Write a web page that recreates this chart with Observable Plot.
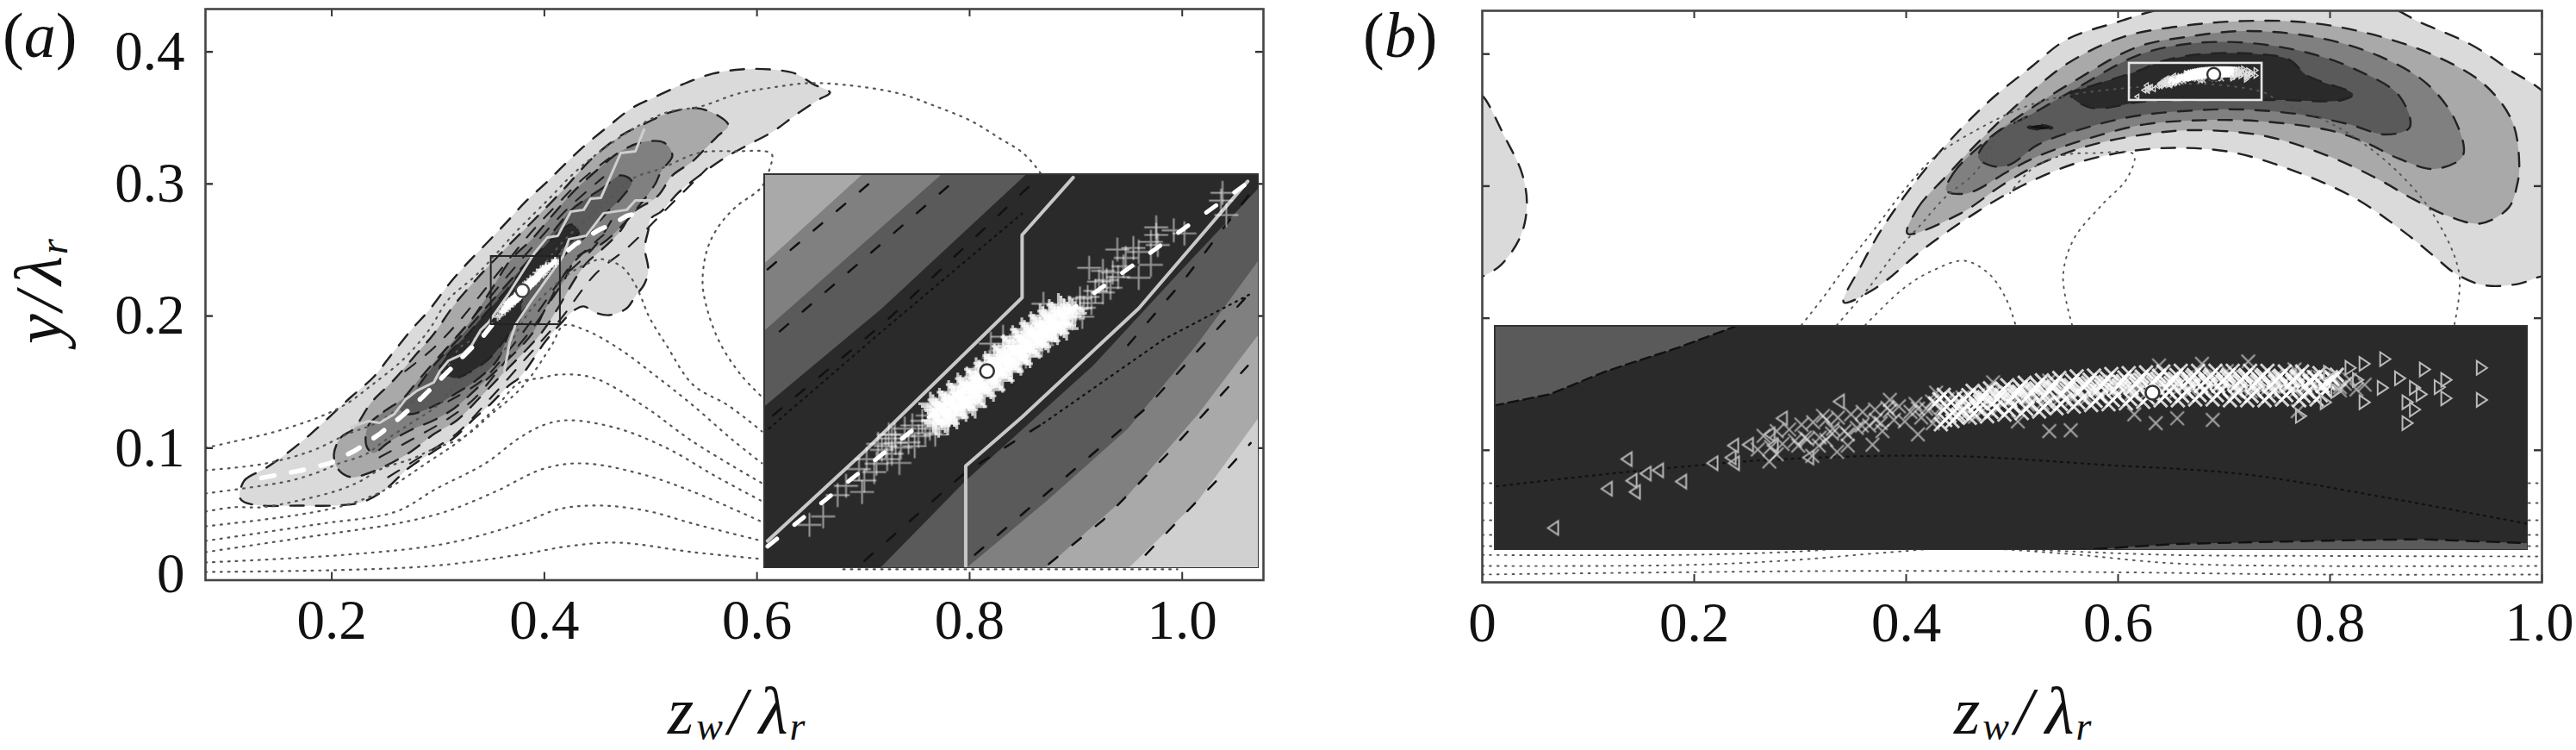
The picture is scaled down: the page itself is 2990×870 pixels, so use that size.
<!DOCTYPE html>
<html><head><meta charset="utf-8">
<style>
html,body{margin:0;padding:0;background:#fff;}
#page{position:relative;width:2990px;height:870px;overflow:hidden;background:#fff;font-family:"Liberation Serif",serif;color:#111;}
#page>div.p{position:absolute;}
#page svg{display:block;overflow:visible;}
#page svg g[aria-label="line"],#page svg g[aria-label="dot"]{filter:blur(.55px);}
.lab{position:absolute;font-family:"Liberation Serif",serif;font-style:italic;white-space:nowrap;line-height:1;color:#111;}
.lab sub{font-size:.59em;vertical-align:baseline;position:relative;top:7px;}
.lab span{font-style:normal;}
.lab b{font-weight:normal;display:inline-block;}
</style>
<script src="https://cdn.jsdelivr.net/npm/d3@7"></script>
<script src="https://cdn.jsdelivr.net/npm/@observablehq/plot@0.6"></script>
</head><body><div id="page"></div>
<script>
const GREYS = {l1:"#dadada", l2:"#a9a9a9", l3:"#808080", l4:"#5a5a5a", l5:"#2a2a2a"};
const xTicksA = [0.2,0.4,0.6,0.8,1.0];
const xTicksB = [0,0.2,0.4,0.6,0.8,1.0];
const yTicks = [0,0.1,0.2,0.3,0.4];

// ---- panel (a): filled contour levels [z/lambda, y/lambda]
const aLevel1 = [[.1136,.0623],[.1177,.0754],[.1371,.0845],[.1582,.0963],[.1801,.1106],[.1987,.1243],[.2181,.1387],[.2392,.1537],[.2554,.17],[.2749,.1896],[.2911,.204],[.3097,.2236],[.3259,.2386],[.3446,.2542],[.364,.2706],[.3827,.2869],[.4013,.3006],[.4208,.3162],[.4394,.33],[.4612,.3443],[.4823,.3574],[.5042,.3659],[.531,.3757],[.5585,.3835],[.5852,.3867],[.612,.3867],[.6363,.3835],[.6525,.3757],[.6687,.3691],[.6582,.3639],[.6363,.3522],[.6152,.3398],[.5909,.3293],[.5691,.3195],[.5472,.3071],[.5261,.2934],[.5099,.2791],[.5002,.2738],[.4977,.2647],[.4945,.2516],[.4977,.2347],[.4937,.2236],[.4856,.2151],[.4775,.2059],[.4612,.2007],[.4475,.2027],[.437,.2073],[.4273,.204],[.4175,.1962],[.4013,.1811],[.377,.1537],[.3664,.1472],[.3503,.1341],[.3341,.1224],[.3154,.108],[.296,.0976],[.2717,.0845],[.2506,.0689],[.2287,.0591],[.202,.0565],[.1695,.0565],[.1339,.0565],[.1177,.0591]];
const aLevel2 = [[.202,.095],[.2085,.108],[.2206,.1146],[.2368,.1341],[.2587,.1518],[.2797,.1713],[.2959,.1864],[.3154,.2086],[.3364,.2281],[.364,.2516],[.3883,.2712],[.4175,.2954],[.4451,.3195],[.4718,.3365],[.4961,.3463],[.518,.3541],[.5423,.3574],[.561,.3528],[.5731,.3443],[.5634,.3365],[.5529,.328],[.5391,.3169],[.5204,.3064],[.5066,.2908],[.4823,.2777],[.4718,.2647],[.4532,.2497],[.4394,.2399],[.4289,.2281],[.4127,.2059],[.3964,.1864],[.3608,.1563],[.3398,.1387],[.3178,.1211],[.296,.1106],[.2749,.0976],[.2506,.0865],[.2311,.08],[.2181,.078],[.2068,.0832]];
const aLevel3 = [[.2344,.1172],[.249,.1276],[.2668,.1374],[.2798,.1498],[.296,.1648],[.3154,.1824],[.3317,.1975],[.3503,.2203],[.3689,.2432],[.3883,.2582],[.407,.2758],[.4289,.2954],[.4532,.313],[.4694,.3234],[.4905,.3313],[.5124,.3313],[.5204,.3215],[.5099,.3097],[.5042,.2999],[.488,.2823],[.4718,.2673],[.4532,.2542],[.4313,.2451],[.4175,.2255],[.4013,.2059],[.3883,.1864],[.3559,.1596],[.3365,.1452],[.3154,.1302],[.296,.1211],[.2749,.1139],[.253,.1041],[.2392,.0963],[.2327,.1015]];
const aLevel4 = [[.4718,.3065],[.4555,.2973],[.4394,.2888],[.4256,.2804],[.407,.2627],[.3883,.2451],[.3664,.2255],[.3446,.2059],[.3284,.1909],[.3097,.1746],[.2935,.1603],[.2798,.1452],[.2635,.1302],[.2717,.1257],[.2935,.1309],[.3154,.1407],[.3365,.1518],[.3559,.1668],[.3689,.1909],[.3883,.2125],[.4046,.232],[.4232,.2497],[.4394,.2608],[.4612,.2804],[.4718,.2888],[.4823,.3019]];
const aLevel5 = [[.4256,.2693],[.4151,.2647],[.3989,.2516],[.3827,.2386],[.364,.219],[.3446,.202],[.3259,.1844],[.3097,.1713],[.3016,.1596],[.3154,.1531],[.3317,.1583],[.3503,.1694],[.3664,.1864],[.377,.1975],[.3803,.217],[.3989,.232],[.4151,.2497],[.4329,.264]];
const aDashed = [
 [[.2692,.1583],[.296,.1759],[.3178,.1942],[.3365,.2125],[.3624,.2386],[.3883,.264],[.411,.2836],[.4353,.3032],[.4612,.3195]],
 [[.2449,.093],[.2773,.1074],[.3097,.1224],[.334,.1374],[.3624,.1648],[.3948,.1975],[.4232,.2366],[.4556,.2614]],
 [[.253,.078],[.2854,.0943],[.3178,.1113],[.3503,.1387],[.3827,.1681],[.4151,.1975],[.4475,.2314],[.4799,.2529],[.5164,.2823],[.5529,.3117]],
 [[.3016,.1694],[.33,.1961],[.3584,.2236],[.3908,.2542],[.4232,.2823],[.4556,.3052]],
 [[.3097,.1354],[.3421,.1518],[.3705,.1779],[.3948,.204],[.4151,.2268],[.4475,.2529],[.4677,.279]]
];
const aDotted = [
 [[.0812,.1002],[.1071,.1048],[.1476,.1126],[.1906,.1243],[.2149,.1341],[.2368,.1472],[.2668,.1668],[.2911,.189],[.3097,.2125],[.3364,.2314],[.3745,.2647],[.4045,.2889],[.4256,.3065],[.4475,.3215],[.4823,.3411],[.5148,.3541],[.5472,.3587],[.5829,.3685],[.6153,.3731],[.6476,.3763],[.6825,.375],[.7336,.3685],[.766,.3594],[.8016,.3476],[.8284,.3345],[.8502,.3234],[.8664,.3084],[.873,.2986]],
 [[.0812,.0832],[.134,.0878],[.1801,.0976],[.2149,.1106],[.2425,.1191],[.2587,.1276],[.2798,.1367],[.3016,.1518],[.3203,.1759],[.3365,.1844],[.3584,.2059],[.377,.2216],[.3989,.2386],[.4151,.2542],[.4313,.2673],[.4556,.2843],[.4718,.2973],[.4856,.3052],[.5099,.3117],[.5448,.3234],[.5796,.3247],[.6136,.3228],[.612,.3117],[.6039,.2973],[.5796,.2823],[.5634,.2673],[.5529,.2497],[.5488,.2255],[.5529,.2059],[.565,.1798],[.5853,.155],[.6047,.1387]],
 [[.0812,.0656],[.134,.0715],[.1615,.0754],[.1858,.0813],[.2068,.0884],[.2311,.095],[.2506,.1061],[.2749,.1191],[.2992,.1322],[.3203,.1518],[.3397,.1602],[.364,.1759],[.3883,.2059],[.4232,.232],[.4451,.2412],[.4532,.2431],[.4718,.2379],[.4823,.2281],[.4905,.2151],[.4985,.1994],[.5148,.1779],[.5399,.1479],[.5731,.1322],[.6047,.1126]],
 [[.0812,.0519],[.1071,.0552],[.1339,.0552],[.1695,.0604],[.2068,.0682],[.2262,.0747],[.2473,.0845],[.2748,.0917],[.2959,.0995],[.3234,.108],[.3502,.1257],[.3802,.1472],[.4069,.1779],[.4183,.1929],[.4394,.189],[.4702,.1753],[.5042,.155],[.5399,.1322],[.5771,.1061],[.6047,.0885]],
 [[.0812,.0408],[.1671,.0493],[.2141,.0571],[.2514,.0689],[.2887,.0884],[.3211,.1061],[.3535,.1302],[.377,.1498],[.3973,.1531],[.4143,.1557],[.4467,.1531],[.4929,.1322],[.5399,.1048],[.6047,.0734]],
 [[.0812,.0297],[.1907,.0428],[.2604,.0519],[.2976,.0689],[.3446,.0885],[.377,.108],[.4005,.1178],[.4232,.1211],[.4702,.1146],[.5164,.0995],[.561,.0787],[.6047,.0598]],
 [[.0812,.0212],[.1907,.0343],[.2604,.0428],[.3073,.0519],[.3535,.0669],[.3997,.0845],[.437,.0884],[.4929,.08],[.5399,.0669],[.6047,.0441]],
 [[.0812,.0134],[.2141,.0193],[.3073,.0277],[.377,.0428],[.4143,.0539],[.4516,.0565],[.4962,.0525],[.5399,.0428],[.6047,.0297]],
 [[.0812,.0062],[.2838,.0101],[.377,.0193],[.4232,.0258],[.4694,.0284],[.5399,.0212],[.6047,.016]],
 [[.6811,.0082],[.9955,.0082]]
];
const aEnvUpper = [[.2181,.1159],[.2344,.1204],[.2449,.1191],[.2587,.1257],[.2692,.1367],[.2798,.1433],[.296,.1498],[.3016,.1583],[.3097,.1661],[.3235,.1713],[.3316,.1779],[.3397,.189],[.3478,.1955],[.3665,.217],[.3907,.2477],[.4029,.2595],[.4127,.2608],[.4248,.279],[.437,.2804],[.4434,.2888],[.4532,.2895],[.4718,.3234],[.4856,.3247],[.4937,.3411]];
const aEnvLower = [[.3624,.1583],[.3673,.1798],[.3729,.1935],[.3868,.2105],[.4175,.2451],[.4232,.2582],[.4394,.2608],[.4556,.2778],[.4775,.2804],[.4856,.2875],[.5002,.2875]];
const aMean = [[.1339,.0774],[.172,.0832],[.1979,.0884],[.2222,.0982],[.2449,.1106],[.2652,.1237],[.2855,.1387],[.3041,.1537],[.3235,.1694],[.3421,.1844],[.3721,.2151],[.3883,.2255],[.4151,.2451],[.4289,.2542],[.4394,.2594],[.4532,.266],[.4637,.2693],[.4775,.2758],[.488,.2778]];
const aBox = {x1:.350,x2:.415,y1:.1935,y2:.2451};
const aRef = [[.3793,.2193]];
const aCloud = [[.356,.1992],[.3578,.2003],[.3597,.2031],[.3629,.2035],[.3608,.2043],[.3632,.205],[.3645,.2061],[.3678,.2073],[.3664,.211],[.3673,.2099],[.3798,.2229],[.3814,.2238],[.3825,.2195],[.3844,.2212],[.3865,.2227],[.3918,.2264],[.3915,.2275],[.3867,.2281],[.3964,.2352],[.3985,.2354],[.3992,.2349],[.4008,.2332],[.3992,.2315],[.3955,.2302],[.3945,.2324],[.3927,.2328],[.4015,.2381],[.4015,.2371],[.4008,.2362],[.4017,.2358],[.4038,.2377],[.4052,.2373],[.4102,.2426],[.4107,.2397],[.41,.2416],[.3975,.2341],
[.3625,.2065],[.3635,.2078],[.3648,.2072],[.3655,.209],[.3662,.2078],[.365,.2098],[.3668,.2105],[.366,.2095],[.3668,.2085],[.3672,.211],[.368,.2093],[.3685,.2118],[.369,.21],[.3695,.2122],[.3698,.2095],[.3703,.2108],[.3708,.2128],[.3712,.2112],[.3715,.2135],[.3718,.2118],[.3722,.2128],[.3725,.211],[.3728,.2142],[.3732,.2125],[.3735,.2135],[.3738,.215],[.3742,.213],[.3745,.2142],[.3748,.216],[.375,.2148],[.3752,.2135],[.3755,.2155],[.3758,.2165],[.376,.2145],[.3762,.216],[.3765,.2172],[.3768,.2152],[.377,.2165],[.3772,.2178],[.3774,.2158],[.3776,.217],[.3778,.2185],[.378,.2165],[.3782,.2176],[.3784,.2192],[.3786,.2172],[.3788,.2185],[.379,.2198],[.3792,.2178],[.3794,.219],[.3796,.2205],[.3798,.2185],[.38,.2196],[.3802,.221],[.3804,.219],[.3806,.2202],[.3808,.2214],[.381,.2196],[.3812,.2208],[.3815,.222],[.3818,.2202],[.382,.2214],[.3823,.2226],[.3826,.2208],[.3828,.222],[.3832,.2232],[.3835,.2214],[.3838,.2226],[.3842,.2238],[.3845,.222],[.3848,.2232],[.3852,.2244],[.3855,.2228],[.3858,.224],[.3862,.225],[.3866,.2234],[.387,.2246],[.3874,.2258],[.3878,.2244],[.3882,.2254],[.3886,.2266],[.389,.2254],[.3895,.2264],[.39,.2276],[.3905,.2262],[.391,.2274],[.3915,.2288],[.392,.2276],[.3925,.229],[.393,.2282],[.3935,.2298],[.394,.231],[.3945,.2296],[.395,.2312],[.3958,.2322],[.3965,.2316],[.3972,.233]];
const aCore = [[.3722,.2147],[.3726,.2125],[.373,.2138],[.3734,.2152],[.3738,.2128],[.3742,.2146],[.3746,.2162],[.375,.2136],[.3754,.2154],[.3758,.2172],[.3762,.2146],[.3766,.216],[.377,.218],[.3774,.215],[.3778,.217],[.3782,.2192],[.3786,.2164],[.379,.2182],[.3794,.22],[.3798,.2172],[.3802,.2192],[.3806,.221],[.381,.2184],[.3814,.2202],[.3818,.2222],[.3822,.2196],[.3826,.2214],[.383,.2234],[.3834,.2206],[.3838,.2222],[.3842,.2244],[.3846,.2216],[.385,.2234],[.3854,.2252],[.3858,.2228],[.3862,.2242],[.3866,.2262],[.387,.2236],[.3874,.2252],[.3878,.2268],[.3882,.2246],[.3886,.2258],[.389,.2276],[.3894,.2252],[.3898,.2268],[.374,.214],[.376,.2156],[.378,.2174],[.38,.219],[.382,.2206],[.384,.2222],[.386,.2238],[.388,.2254],[.3905,.2272]];

// ---- inset of (a): band edges read in the magnified window
const iaUL = [{fill:GREYS.l4,pts:[[.35,.245],[.3844,.245],[.3655,.2275],[.3502,.2148],[.35,.2148]]},{fill:GREYS.l3,pts:[[.35,.245],[.3733,.245],[.3502,.2247],[.35,.2247]]},{fill:GREYS.l2,pts:[[.35,.245],[.3629,.245],[.3502,.2335],[.35,.2335]]}];
const iaLR = [{fill:GREYS.l4,pts:[[.3652,.1935],[.3765,.205],[.3932,.22],[.4047,.2324],[.415,.2433],[.415,.1935]]},{fill:GREYS.l3,pts:[[.3765,.1935],[.3872,.2024],[.3978,.2118],[.407,.223],[.415,.2339],[.415,.1935]]},{fill:GREYS.l2,pts:[[.3869,.1935],[.3978,.2031],[.407,.2137],[.415,.2242],[.415,.1935]]},{fill:"#d0d0d0",pts:[[.3978,.1935],[.407,.2024],[.415,.2133],[.415,.1935]]}];
const iaDashed = [[[.3505,.2326],[.3643,.2442]],[[.3521,.2245],[.3747,.2439]],[[.3512,.2135],[.3659,.2257],[.3853,.2439]],[[.3632,.1945],[.3765,.2061],[.3867,.2125]],[[.3777,.1953],[.4001,.2144],[.4144,.2302]],[[.3874,.1941],[.3945,.1998],[.4029,.2084],[.4135,.22]],[[.4001,.1953],[.4102,.2058],[.4139,.2099]],[[.3978,.2227],[.4052,.2313],[.4144,.2433]]];
const iaDotted = [[[.3507,.2118],[.3655,.2245],[.3839,.2399]],[[.3867,.2125],[.4024,.2234],[.4139,.2294]]];
const iaEnvUpper = [[.3505,.1971],[.3632,.2088],[.3839,.2289],[.3839,.2371],[.3906,.2446]];
const iaEnvLower = [[.3765,.1938],[.3765,.2069],[.3839,.2133],[.3992,.2275],[.4135,.2441]];
const iaMean = [[.3505,.1964],[.3655,.2084],[.3793,.2193],[.3932,.2294],[.4139,.2442]];

// ---- panel (b)
const bLevel1 = [[.3411,.212],[.3578,.2402],[.3778,.2685],[.4045,.2989],[.4379,.3315],[.478,.3641],[.518,.3902],[.5514,.4109],[.5981,.4239],[.6549,.4359],[.8518,.4359],[.8852,.4239],[.9319,.4076],[.9653,.3902],[1.012,.3598],[1.012,.2315],[.9987,.2315],[.9786,.2261],[.9453,.225],[.9186,.2337],[.8985,.2467],[.8718,.2641],[.8251,.2902],[.7717,.3098],[.7116,.325],[.6649,.3289],[.6182,.3272],[.5648,.3185],[.5113,.3011],[.4646,.2793],[.4179,.2533],[.3712,.2228]];
const bBlob = [[-.005,.3696],[0,.3685],[.0207,.338],[.0374,.3098],[.0421,.2859],[.0361,.262],[.0174,.2402],[0,.2315],[-.005,.23]];
const bLevel2 = [[.4012,.2641],[.4112,.2837],[.4379,.3076],[.4713,.3359],[.5113,.3663],[.5514,.3924],[.6048,.413],[.6649,.4217],[.7183,.425],[.7784,.4239],[.8384,.4152],[.8985,.3989],[.9453,.3772],[.972,.3489],[.9786,.3163],[.9766,.3011],[.9686,.2837],[.9419,.2717],[.9119,.2772],[.8785,.2902],[.8451,.3054],[.7984,.3228],[.7383,.338],[.6716,.3424],[.6248,.3391],[.5714,.3304],[.5247,.3163],[.4913,.3011],[.4513,.2793]];
const bLevel3 = [[.4379,.2967],[.4446,.3098],[.4713,.3315],[.5113,.3554],[.5581,.3793],[.6182,.4054],[.6649,.413],[.7183,.4174],[.785,.413],[.8451,.3989],[.8919,.3772],[.9186,.3489],[.9252,.3228],[.8985,.313],[.8652,.3207],[.8318,.3337],[.7984,.3424],[.7383,.3489],[.6849,.35],[.6248,.3467],[.5714,.3359],[.5247,.3228],[.498,.312],[.4579,.2946]];
const bLevel4 = [[.468,.3217],[.4813,.338],[.518,.3543],[.5581,.3728],[.6182,.3989],[.6649,.4076],[.7183,.4087],[.7784,.4011],[.8251,.388],[.8652,.3685],[.8752,.3446],[.8518,.3391],[.8184,.3467],[.7717,.3543],[.7183,.358],[.6782,.3576],[.6182,.3533],[.5714,.3446],[.5247,.3315],[.498,.3163],[.4813,.3152]];
const bLevel5 = [[.5547,.3696],[.5714,.375],[.6182,.387],[.6415,.3946],[.6782,.4],[.7316,.4],[.7617,.3957],[.7784,.3837],[.8218,.3696],[.8117,.3652],[.7517,.3652],[.6916,.3652],[.6248,.3641],[.5748,.3593]];
const bSpot = [[.5147,.3446],[.528,.3463],[.538,.3441],[.5247,.3428]];
const bDotted = [
 [[.3011,.1946],[.3244,.2185],[.3478,.2446],[.3712,.2685],[.3979,.2967],[.4279,.3228],[.4713,.3446],[.5113,.3598],[.5514,.3685],[.6182,.375],[.6849,.3772],[.7383,.3707],[.7517,.3641],[.7917,.3511],[.8251,.3359],[.8652,.3098],[.8985,.2772],[.9219,.2337],[.9172,.1946]],
 [[.3344,.1946],[.3645,.2228],[.3912,.2511],[.4112,.2685],[.4379,.2924],[.4646,.3098],[.4913,.3424],[.518,.3533]],
 [[.5567,.1946],[.5481,.2315],[.5581,.2598],[.5848,.2859],[.6081,.3054],[.6148,.3239],[.5781,.325],[.5514,.3239],[.5247,.3163],[.5113,.3076],[.498,.2946]],
 [[.3612,.1946],[.3979,.2228],[.4246,.2359],[.4546,.2435],[.478,.2337],[.4947,.2141],[.5033,.1946]],
 [[0,.0207],[.184,.0207],[.284,.0228],[.411,.0283],[.535,.0241],[.652,.0207],[.785,.02],[1,.0196]],
 [[0,.0124],[.184,.013],[.284,.0163],[.385,.0228],[.45,.0261],[.55,.0217],[.652,.0144],[.785,.0124],[1,.0124]],
 [[0,.0059],[.184,.0076],[.385,.0087],[.6,.0076],[.785,.0059],[1,.0059]],
 [[0,.0751],[1,.0751]],[[0,.0601],[1,.0601]],[[0,.047],[1,.047]],[[0,.0359],[1,.0359]],[[0,.0274],[1,.0274]]
];
const bBox = {x1:.6106,x2:.7358,y1:.3649,y2:.393};
const bRef = [[.6903,.3846]];

// ---- inset of (b)
const ibUL = [[.6106,.393],[.6401,.393],[.6328,.3902],[.6242,.3873],[.6173,.3844],[.6106,.383]];
const ibLR = [[.6808,.3649],[.6929,.3657],[.71,.3661],[.7229,.3663],[.7358,.3658],[.7358,.3649]];
const ibDotted = [[.6109,.3729],[.6267,.3747],[.6456,.3763],[.6654,.3767],[.6843,.3756],[.7015,.3744],[.7186,.3715],[.7358,.3682]];
const ibLeftTri = [[.6177,.3677],[.6266,.3763],[.6242,.3726],[.6276,.3722],[.6272,.3736],[.6289,.3745],[.6304,.3749],[.6332,.3735],[.637,.3758],[.6392,.3765],[.6395,.378],[.6413,.3781],[.6439,.3794],[.6454,.3814],[.6443,.378],[.6523,.3835],[.6486,.3765],[.6396,.3758]];
const ibRightTri = [[.7185,.3888],[.7233,.3875],[.7302,.3877],[.7302,.3837],[.7212,.3808],[.7083,.3817],[.7259,.3862],[.7251,.3853],[.7259,.3839],[.7212,.3834],[.7221,.3825],[.7229,.3844],[.7203,.3864],[.716,.3882],[.7143,.3877],[.7117,.3871],[.7152,.3862],[.7113,.3834],[.716,.3834],[.7182,.3852],[.7126,.3848],[.7221,.3852]];
const ibCross = [[.6911,.388],[.6963,.3882],[.7019,.3885],[.671,.3859],[.6504,.3817],[.6439,.376],[.6976,.3812],[.6933,.3814],[.6907,.3808],[.6804,.3799],[.6778,.3798],[.6564,.3781],[.6521,.3772],[.6491,.3767],[.6619,.3794],[.6585,.3837],[.6641,.3846],[.6778,.3861],[.6881,.3819],[.7079,.3823],[.7075,.3875],[.6993,.3873],
[.6474,.378],[.6448,.3769],[.6482,.379],[.6508,.3787],[.6534,.3794],[.6551,.3805],[.6516,.3801],[.6568,.3812],[.6585,.3823],[.6619,.3826],[.6499,.378],[.6534,.378],[.6576,.3798],[.6637,.3808],[.6688,.3816],[.674,.381],
[.6425,.3775],[.6432,.3792],[.6441,.3778],[.6448,.3798],[.6455,.3782],[.6463,.38],[.647,.3786],[.6478,.3806],[.6485,.3788],[.6492,.3809],[.65,.379],[.6508,.3812],[.6515,.3795],[.6522,.3815],[.653,.3798],[.6538,.3819],[.6545,.3802],[.6552,.3822],[.656,.3805],[.6567,.3825],[.6574,.3808],[.6582,.3827],[.659,.3812],[.6596,.3829],[.6603,.381],[.661,.3822],[.6616,.3832],[.6623,.3815],[.6629,.3826],[.6636,.3835],[.6642,.3817],[.6648,.3828],[.6655,.3838],[.6661,.382],[.6667,.3832],[.6673,.384],[.668,.3822],[.6686,.3834],[.6692,.3843],[.6698,.3824],[.6704,.3836],[.671,.3845],[.6716,.3826],[.6722,.3838],[.6728,.3846],[.6734,.3829],[.674,.384],[.6746,.3848],[.6752,.3831],[.6758,.3842],[.6764,.385],[.677,.3833],[.6776,.3844],[.6782,.3852],[.6788,.3836],[.6794,.3846],[.68,.3854],[.6806,.3838],[.6812,.3848],[.6818,.3856],[.6824,.384],[.683,.385],[.6836,.3858],[.6842,.3842],[.6848,.3852],[.6854,.386],[.686,.3843],[.6866,.3853],[.6872,.3861],[.6878,.3845],[.6884,.3855],[.689,.3862],[.6896,.3846],[.6902,.3856],[.6908,.3863],[.6914,.3847],[.692,.3857],[.6926,.3864],[.6932,.3848],[.6938,.3858],[.6944,.3865],[.695,.3849],[.6956,.3858],[.6962,.3866],[.6968,.3849],[.6974,.3858],[.698,.3866],[.6986,.3849],[.6992,.3858],[.6998,.3866],[.7004,.3848],[.701,.3858],[.7016,.3867],[.7022,.3848],[.7028,.3858],[.7034,.3867],[.704,.3849],[.7046,.3858],[.7052,.3866],[.7058,.3849],[.7064,.3859],[.707,.3867],[.7076,.3848],[.7082,.3858],[.7088,.3866],[.7094,.3847],[.71,.3857],[.7106,.3865],[.7112,.3848],[.7118,.3858],[.7124,.3864],[.713,.3849],[.7136,.3857],[.7142,.3862],[.715,.385],[.716,.3856],
[.665,.3826],[.667,.383],[.669,.3832],[.671,.3835],[.673,.3838],[.675,.384],[.677,.3842],[.679,.3845],[.681,.3846],[.683,.3847],[.685,.3849],[.687,.3851],[.689,.3852],[.691,.3853],[.693,.3855],[.695,.3856],[.697,.3855],[.699,.3856],[.701,.3852],[.703,.3854],[.705,.3853],[.707,.3855],[.709,.3852],[.711,.3854],[.713,.3853]];
const ibCore = [[.6645,.3838],[.6652,.3812],[.6659,.3834],[.6666,.3816],[.6673,.3824],[.668,.3843],[.6687,.382],[.6694,.3835],[.6701,.3846],[.6708,.3822],[.6715,.3838],[.6722,.385],[.6729,.3824],[.6736,.3842],[.6743,.3853],[.675,.3826],[.6757,.3846],[.6764,.3856],[.6771,.3828],[.6778,.3848],[.6785,.3859],[.6792,.3832],[.6799,.385],[.6806,.3861],[.6813,.3834],[.682,.3853],[.6827,.3862],[.6834,.3836],[.6841,.3854],[.6848,.3864],[.6855,.3837],[.6862,.3855],[.6869,.3865],[.6876,.3838],[.6883,.3857],[.689,.3866],[.6897,.384],[.6904,.3858],[.6911,.3867],[.6918,.3842],[.6925,.3858],[.6932,.3868],[.6939,.3842],[.6946,.386],[.6953,.3868],[.696,.3843],[.6967,.386],[.6974,.3868],[.6981,.3843],[.6988,.386],[.6995,.3868],[.7002,.3842],[.7009,.386],[.7016,.3868],[.7023,.3842],[.703,.386],[.7037,.3868],[.7044,.3842],[.7051,.386],[.7058,.3867],[.7065,.3843],[.7072,.386],[.7079,.3867],[.7086,.3842],[.7093,.386],[.71,.3865],[.7107,.3843],[.7114,.386],[.7121,.3863]];

// ---- shared helpers
const px = d => d[0], py = d => d[1];
const band = (pts, fill, stroke=true, dash="16,14") => Plot.line(pts, {x:px, y:py, fill, stroke: stroke ? "#222" : "none", strokeWidth:2.4, strokeDasharray:dash, curve:"catmull-rom-closed", clip:true});
const dash = (pts, extra={}) => Plot.line(pts, {x:px, y:py, stroke:"#222", strokeWidth:2.2, strokeDasharray:"15,15", curve:"catmull-rom", clip:true, ...extra});
const dots = (pts, extra={}) => Plot.line(pts, {x:px, y:py, stroke:"#555", strokeWidth:2.2, strokeDasharray:"1.8,7", curve:"catmull-rom", clip:true, ...extra});
const fmt = d => d === 0 ? "0" : d.toFixed(1);
const triangle = dir => ({draw(c, size){ const r = Math.sqrt(size/Math.PI); c.moveTo(dir*r*.75,0); c.lineTo(-dir*r*.75,-r); c.lineTo(-dir*r*.75,r); c.closePath(); }});

function frameMarks(x0,x1,y0,y1,xT,yT,dxT,dyT){
  return [
    Plot.ruleX(xT.filter(t=>t>x0),{x:d=>d,y1:y0,y2:y0+dyT,stroke:"#333",strokeWidth:2}),
    Plot.ruleX(xT.filter(t=>t>x0),{x:d=>d,y1:y1-dyT,y2:y1,stroke:"#333",strokeWidth:2}),
    Plot.ruleY(yT.filter(t=>t>0),{y:d=>d,x1:x0,x2:x0+dxT,stroke:"#333",strokeWidth:2.4}),
    Plot.ruleY(yT.filter(t=>t>0),{y:d=>d,x1:x1-dxT,x2:x1,stroke:"#333",strokeWidth:2.4}),
    Plot.frame({stroke:"#444",strokeWidth:2.6})
  ];
}
function mount(node,left,top){ const d=document.createElement("div"); d.className="p"; d.style.left=left+"px"; d.style.top=top+"px"; d.appendChild(node); document.getElementById("page").appendChild(d); }
const txt = {fontSize:65,fontFamily:"Liberation Serif"};

// ---- panel (a)
const ax0=.0812, ax1=1.0764, ay1=.4324;
const panelA = Plot.plot({
  width:1500,height:870,marginLeft:238,marginRight:34,marginTop:10,marginBottom:197.5,
  x:{domain:[ax0,ax1]},y:{domain:[0,ay1]},
  style:{background:"transparent",overflow:"visible"},
  marks:[
    band(aLevel1,GREYS.l1),band(aLevel2,GREYS.l2),band(aLevel3,GREYS.l3),band(aLevel4,GREYS.l4),band(aLevel5,GREYS.l5),
    ...aDashed.map(l=>dash(l)),
    ...aDotted.map(l=>dots(l)),
    Plot.line(aEnvUpper,{x:px,y:py,stroke:"#cfcfcf",strokeWidth:3,clip:true}),
    Plot.line(aEnvLower,{x:px,y:py,stroke:"#cfcfcf",strokeWidth:3,clip:true}),
    Plot.line(aMean,{x:px,y:py,stroke:"#fff",strokeWidth:5.5,strokeDasharray:"15,20",clip:true}),
    Plot.dot(aCloud,{x:px,y:py,symbol:"plus",r:3.2,stroke:"#fff",strokeOpacity:.7,strokeWidth:2}),
    Plot.dot(aCore,{x:px,y:py,symbol:"plus",r:3.2,stroke:"#fff",strokeOpacity:.85,strokeWidth:2}),
    Plot.rect([aBox],{x1:"x1",x2:"x2",y1:"y1",y2:"y2",fill:"none",stroke:"#222",strokeWidth:2}),
    Plot.dot(aRef,{x:px,y:py,r:7.5,fill:"#fff",stroke:"#444",strokeWidth:2.4}),
    ...frameMarks(ax0,ax1,0,ay1,xTicksA,yTicks,.0073,.0059),
    Plot.axisX({ticks:xTicksA,tickFormat:fmt,tickSize:0,tickPadding:22,label:null,...txt}),
    Plot.axisY({ticks:yTicks.slice(1),tickFormat:fmt,tickSize:0,tickPadding:24,label:null,...txt}),
    Plot.axisY({ticks:[0],tickFormat:fmt,tickSize:0,tickPadding:24,label:null,dy:-7,...txt})
  ]
});
mount(panelA,0,0);

// ---- inset of (a)
const insetA = Plot.plot({
  width:575,height:458,margin:0,
  x:{domain:[aBox.x1,aBox.x2],axis:null},y:{domain:[aBox.y1,aBox.y2],axis:null},
  style:{background:GREYS.l5,overflow:"hidden"},
  marks:[
    Plot.frame({fill:GREYS.l5}),
    ...iaUL.map(b=>Plot.line(b.pts,{x:px,y:py,fill:b.fill,stroke:"none",curve:"linear-closed",clip:true})),
    ...iaLR.map(b=>Plot.line(b.pts,{x:px,y:py,fill:b.fill,stroke:"none",curve:"linear-closed",clip:true})),
    ...iaDashed.map(l=>dash(l,{stroke:"#111",strokeWidth:2.5,strokeDasharray:"13,22",curve:"linear"})),
    ...iaDotted.map(l=>dots(l,{stroke:"#111",strokeWidth:2.2,strokeDasharray:"2,6",curve:"linear"})),
    Plot.line(iaEnvUpper,{x:px,y:py,stroke:"#c8c8c8",strokeWidth:4,clip:true}),
    Plot.line(iaEnvLower,{x:px,y:py,stroke:"#c8c8c8",strokeWidth:4,clip:true}),
    Plot.line(iaMean,{x:px,y:py,stroke:"#fff",strokeWidth:5,strokeDasharray:"14,26",clip:true}),
    Plot.dot(aCloud,{x:px,y:py,symbol:"plus",r:9,stroke:"#fff",strokeOpacity:.5,strokeWidth:2.2}),
    Plot.dot(aCore,{x:px,y:py,symbol:"plus",r:9,stroke:"#fff",strokeOpacity:.8,strokeWidth:3.2}),
    Plot.dot(aCore,{x:px,y:py,dx:3,dy:3,symbol:"plus",r:9,stroke:"#fff",strokeOpacity:.7,strokeWidth:3.2}),
    Plot.dot(aCore,{x:px,y:py,dx:-3,dy:-3,symbol:"plus",r:9,stroke:"#fff",strokeOpacity:.7,strokeWidth:3.2}),
    Plot.dot(aRef,{x:px,y:py,r:8,fill:"#fff",stroke:"#333",strokeWidth:2.6}),
    Plot.frame({stroke:"#333",strokeWidth:3})
  ]
});
mount(insetA,886,201);

// ---- panel (b)
const by1=(675-12)/1532;
const panelB = Plot.plot({
  width:1290,height:870,marginLeft:20,marginRight:40,marginTop:12,marginBottom:195,
  x:{domain:[0,1]},y:{domain:[0,by1],axis:null},
  style:{background:"transparent",overflow:"visible"},
  marks:[
    band(bBlob,GREYS.l1),
    band(bLevel1,GREYS.l1),band(bLevel2,GREYS.l2),band(bLevel3,GREYS.l3),band(bLevel4,GREYS.l4),band(bLevel5,GREYS.l5),band(bSpot,"#111"),
    ...bDotted.map(l=>dots(l,{strokeWidth:1.9})),
    Plot.dot(ibCross,{x:px,y:py,symbol:"times",r:2.6,stroke:"#fff",strokeOpacity:.7,strokeWidth:1.8}),
    Plot.dot(ibCore,{x:px,y:py,symbol:"times",r:2.6,stroke:"#fff",strokeOpacity:.9,strokeWidth:2}),
    Plot.dot(ibCore,{x:px,y:py,dy:-3,symbol:"times",r:2.6,stroke:"#fff",strokeOpacity:.9,strokeWidth:2}),
    Plot.dot(ibLeftTri,{x:px,y:py,symbol:triangle(-1),r:3,stroke:"#ddd",fill:"none",strokeWidth:1.4}),
    Plot.dot(ibRightTri,{x:px,y:py,symbol:triangle(1),r:3,stroke:"#ddd",fill:"none",strokeWidth:1.4}),
    Plot.rect([bBox],{x1:"x1",x2:"x2",y1:"y1",y2:"y2",fill:"none",stroke:"#e6e6e6",strokeWidth:2.6}),
    Plot.dot(bRef,{x:px,y:py,r:7.5,fill:"#fff",stroke:"#333",strokeWidth:2.4}),
    ...frameMarks(0,1,0,by1,xTicksB,yTicks,.0073,.0059),
    Plot.axisX({ticks:xTicksB.slice(0,-1),tickFormat:fmt,tickSize:0,tickPadding:22,label:null,...txt}),
    Plot.axisX({ticks:xTicksB.slice(-1),tickFormat:fmt,tickSize:0,tickPadding:22,label:null,dx:-3,...txt,fontSize:64})
  ]
});
mount(panelB,1700,0);

// ---- inset of (b)
const insetB = Plot.plot({
  width:1200,height:261,margin:0,
  x:{domain:[bBox.x1,bBox.x2],axis:null},y:{domain:[bBox.y1,bBox.y2],axis:null},
  style:{background:GREYS.l5,overflow:"hidden"},
  marks:[
    Plot.frame({fill:GREYS.l5}),
    Plot.line(ibUL,{x:px,y:py,fill:GREYS.l4,stroke:"none",curve:"linear-closed",clip:true}),
    Plot.line(ibLR,{x:px,y:py,fill:GREYS.l4,stroke:"none",curve:"linear-closed",clip:true}),
    dash(ibUL.slice(1,6),{stroke:"#111",strokeWidth:2.4,strokeDasharray:"12,6",curve:"linear"}),
    dash(ibLR.slice(0,5),{stroke:"#111",strokeWidth:2.4,strokeDasharray:"14,10",curve:"linear"}),
    dots(ibDotted,{stroke:"#111",strokeWidth:2.2,strokeDasharray:"2,6"}),
    Plot.dot(ibCross,{x:px,y:py,symbol:"times",r:7.2,stroke:"#fff",strokeOpacity:.6,strokeWidth:2}),
    Plot.dot(ibCore,{x:px,y:py,symbol:"times",r:7.2,stroke:"#fff",strokeOpacity:.85,strokeWidth:3}),
    Plot.dot(ibCore,{x:px,y:py,dx:5,dy:-5,symbol:"times",r:7.2,stroke:"#fff",strokeOpacity:.8,strokeWidth:3}),
    Plot.dot(ibCore,{x:px,y:py,dx:-5,dy:5,symbol:"times",r:7.2,stroke:"#fff",strokeOpacity:.8,strokeWidth:3}),
    Plot.dot(ibLeftTri,{x:px,y:py,symbol:triangle(-1),r:8,stroke:"#bbb",fill:"none",strokeWidth:2}),
    Plot.dot(ibRightTri,{x:px,y:py,symbol:triangle(1),r:8,stroke:"#bbb",fill:"none",strokeWidth:2}),
    Plot.dot(bRef,{x:px,y:py,r:8,fill:"#fff",stroke:"#333",strokeWidth:2.6}),
    Plot.frame({stroke:"#333",strokeWidth:3})
  ]
});
mount(insetB,1734,377);

// ---- labels
function label(html,left,top,size,extra=""){ const s=document.createElement("div"); s.className="lab"; s.innerHTML=html; s.style.cssText=`left:${left}px;top:${top}px;font-size:${size}px;${extra}`; document.getElementById("page").appendChild(s); }
const gap = n => `<b style="width:${n}px"></b>`;
const ratioZ = `z${gap(3)}<sub>w</sub>${gap(6)}/${gap(14)}λ${gap(2)}<sub>r</sub>`;
label("<span>(</span>a<span>)</span>",3,4,74);
label("<span>(</span>b<span>)</span>",1582,4,74);
label(ratioZ,775,786,78);
label(ratioZ,2268,786,78);
label(`y${gap(4)}/${gap(8)}λ${gap(2)}<sub>r</sub>`,-16,299,78,"transform:rotate(-90deg);transform-origin:center;");
</script></body></html>
